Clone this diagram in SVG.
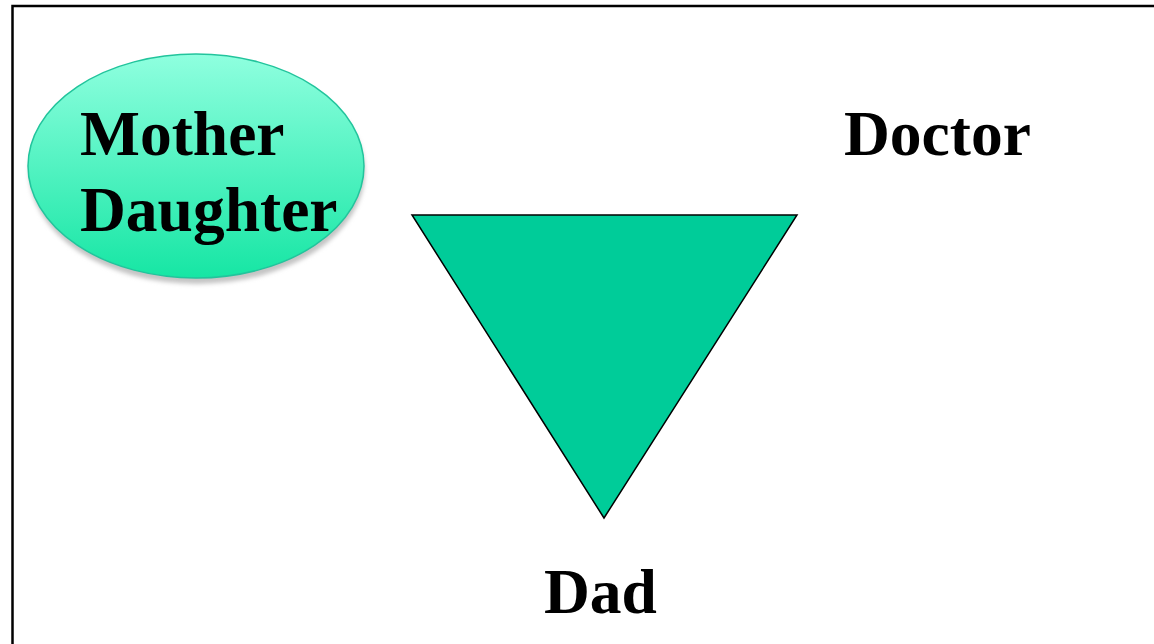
<svg xmlns="http://www.w3.org/2000/svg" width="1154" height="644" viewBox="0 0 1154 644">
<defs>
<linearGradient id="g" x1="0" y1="0" x2="0" y2="1">
<stop offset="0" stop-color="#8fffdf"/>
<stop offset="1" stop-color="#16e6a4"/>
</linearGradient>
<filter id="blur" x="-10%" y="-10%" width="120%" height="130%"><feGaussianBlur stdDeviation="2"/></filter>
<style>
.t{font-family:"Liberation Serif","Times New Roman",serif;font-weight:bold;font-size:63.5px;fill:#000}
</style>
</defs>
<rect width="1154" height="644" fill="#fff"/>
<path d="M12.5 644 V6 H1154" fill="none" stroke="#000" stroke-width="2.5"/>
<g id="mother-daughter">
<ellipse cx="197" cy="172" rx="168" ry="112" fill="#c4c4c4" filter="url(#blur)"/>
<ellipse cx="196" cy="166" rx="168" ry="112" fill="url(#g)" stroke="#22c49c" stroke-width="1.5"/>
<text class="t" x="80" y="155">Mother</text>
<text class="t" x="80" y="231">Daughter</text>
</g>
<g id="triangle">
<polygon points="412,215 797,215 604,518" fill="#00cc99" stroke="#000" stroke-width="1.5"/>
</g>
<g id="doctor"><text class="t" x="844" y="155">Doctor</text></g>
<g id="dad"><text class="t" x="544" y="613">Dad</text></g>
<g id="connectors"/>
</svg>
